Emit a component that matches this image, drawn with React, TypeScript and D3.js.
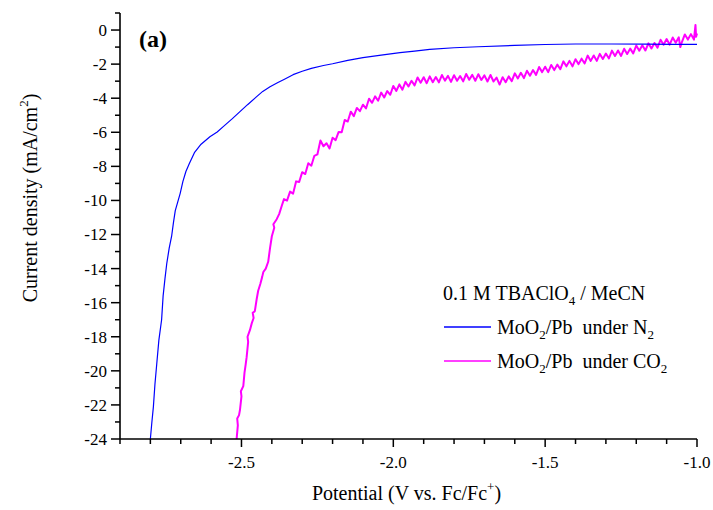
import { useRef, useEffect } from 'react';
import * as d3 from 'd3';

// LSV curves, current density (mA/cm2) vs potential (V vs Fc/Fc+)
const n2Curve: [number, number][] = [
  [-2.800, -24.0], [-2.795, -23.0], [-2.790, -22.1], [-2.785, -20.8], [-2.779, -19.6],
  [-2.772, -18.2], [-2.763, -17.0], [-2.758, -15.6], [-2.752, -14.6], [-2.746, -13.7],
  [-2.738, -12.8], [-2.730, -12.1], [-2.724, -11.3], [-2.718, -10.6], [-2.710, -10.1],
  [-2.702, -9.6], [-2.693, -8.9], [-2.683, -8.3], [-2.672, -7.85], [-2.655, -7.2],
  [-2.633, -6.7], [-2.604, -6.26], [-2.580, -5.98], [-2.560, -5.67], [-2.530, -5.2],
  [-2.505, -4.79], [-2.480, -4.38], [-2.450, -3.91], [-2.430, -3.6], [-2.406, -3.33],
  [-2.380, -3.08], [-2.360, -2.9], [-2.330, -2.62], [-2.300, -2.42], [-2.270, -2.25],
  [-2.230, -2.08], [-2.200, -1.98], [-2.150, -1.78], [-2.100, -1.62], [-2.040, -1.47],
  [-1.978, -1.33], [-1.930, -1.24], [-1.880, -1.13], [-1.800, -1.04], [-1.720, -0.98],
  [-1.600, -0.9], [-1.500, -0.85], [-1.400, -0.82], [-1.280, -0.82], [-1.170, -0.83],
  [-1.080, -0.84], [-1.000, -0.84],
];

const co2Curve: [number, number][] = [
  [-2.516, -24.0], [-2.512, -23.2], [-2.514, -22.8], [-2.508, -22.6], [-2.505, -22.3],
  [-2.500, -21.5], [-2.502, -21.2], [-2.494, -20.9], [-2.490, -20.1], [-2.486, -19.6],
  [-2.483, -19.2], [-2.478, -18.3], [-2.480, -18.0], [-2.472, -17.6], [-2.466, -17.2],
  [-2.460, -16.9], [-2.463, -16.6], [-2.456, -16.5], [-2.450, -15.8], [-2.445, -15.3],
  [-2.438, -14.9], [-2.432, -14.5], [-2.428, -14.2], [-2.420, -14.0], [-2.412, -13.6],
  [-2.406, -12.8], [-2.400, -12.1], [-2.392, -11.6], [-2.395, -11.4], [-2.384, -11.1],
  [-2.376, -10.8], [-2.367, -10.3],
  [-2.36, -9.92], [-2.35, -10.01], [-2.34, -9.48], [-2.33, -9.6], [-2.32, -8.88],
  [-2.31, -8.92], [-2.30, -8.34], [-2.29, -8.45], [-2.28, -7.82], [-2.27, -7.96],
  [-2.26, -7.38], [-2.25, -7.3], [-2.24, -6.48], [-2.23, -6.82], [-2.22, -6.64],
  [-2.21, -6.95], [-2.20, -6.32], [-2.19, -6.46], [-2.18, -5.98], [-2.17, -6.0],
  [-2.16, -5.28], [-2.15, -5.37], [-2.14, -4.79], [-2.13, -5.05], [-2.12, -4.57],
  [-2.11, -4.76], [-2.10, -4.38], [-2.09, -4.6], [-2.08, -4.03], [-2.07, -4.27],
  [-2.06, -3.89], [-2.05, -4.15], [-2.04, -3.67], [-2.03, -3.96], [-2.02, -3.58],
  [-2.01, -3.8], [-2.00, -3.28], [-1.99, -3.57], [-1.98, -3.19], [-1.97, -3.5],
  [-1.96, -3.04], [-1.95, -3.31], [-1.94, -2.98], [-1.93, -3.25], [-1.92, -2.78],
  [-1.91, -3.09], [-1.90, -2.77], [-1.89, -3.12], [-1.88, -2.72], [-1.87, -3.06],
  [-1.86, -2.76], [-1.85, -3.07], [-1.84, -2.64], [-1.83, -2.97], [-1.82, -2.69],
  [-1.81, -3.04], [-1.80, -2.65], [-1.79, -2.98], [-1.78, -2.7], [-1.77, -3.01],
  [-1.76, -2.58], [-1.75, -2.92], [-1.74, -2.63], [-1.73, -2.98], [-1.72, -2.59],
  [-1.71, -2.93], [-1.70, -2.66], [-1.69, -3.02], [-1.68, -2.64], [-1.67, -3.02],
  [-1.66, -2.79], [-1.65, -3.2], [-1.64, -2.77], [-1.63, -3.06], [-1.62, -2.72],
  [-1.61, -3.0], [-1.60, -2.54], [-1.59, -2.84], [-1.58, -2.51], [-1.57, -2.82],
  [-1.56, -2.39], [-1.55, -2.68], [-1.54, -2.35], [-1.53, -2.63], [-1.52, -2.17],
  [-1.51, -2.47], [-1.50, -2.15], [-1.49, -2.47], [-1.48, -2.05], [-1.47, -2.35],
  [-1.46, -2.03], [-1.45, -2.3], [-1.44, -1.84], [-1.43, -2.13], [-1.42, -1.81],
  [-1.41, -2.13], [-1.40, -1.71], [-1.39, -2.0], [-1.38, -1.68], [-1.37, -1.96],
  [-1.36, -1.5], [-1.35, -1.81], [-1.34, -1.49], [-1.33, -1.81], [-1.32, -1.4],
  [-1.31, -1.7], [-1.30, -1.38], [-1.29, -1.67], [-1.28, -1.21], [-1.27, -1.52],
  [-1.26, -1.2], [-1.25, -1.52], [-1.24, -1.1], [-1.23, -1.41], [-1.22, -1.09],
  [-1.21, -1.37], [-1.20, -0.91], [-1.19, -1.21], [-1.18, -0.89], [-1.17, -1.2],
  [-1.16, -0.78], [-1.15, -1.08], [-1.14, -0.76], [-1.13, -1.03], [-1.12, -0.57],
  [-1.11, -0.86], [-1.10, -0.53], [-1.09, -0.86], [-1.08, -0.44], [-1.07, -0.74],
  [-1.06, -0.43], [-1.055, -1.0], [-1.05, -0.72], [-1.04, -0.26], [-1.03, -0.56],
  [-1.02, -0.24], [-1.01, -0.56], [-1.005, 0.3], [-1.003, -0.4], [-1.000, -0.2],
];

const xMajorTicks = [-2.5, -2.0, -1.5, -1.0];
const xMinorTicks = [-2.9, -2.8, -2.7, -2.6, -2.4, -2.3, -2.2, -2.1, -1.9, -1.8, -1.7, -1.6, -1.4, -1.3, -1.2, -1.1];
const yMajorTicks = [0, -2, -4, -6, -8, -10, -12, -14, -16, -18, -20, -22, -24];
const yMinorTicks = [1, -1, -3, -5, -7, -9, -11, -13, -15, -17, -19, -21, -23];

const N2_COLOR = '#0000ff';
const CO2_COLOR = '#ff00ff';
const FONT = '"Liberation Serif", "Times New Roman", serif';

export default function App() {
  const svgRef = useRef<SVGSVGElement>(null);

  useEffect(() => {
    const svg = d3.select(svgRef.current);
    svg.selectAll('*').remove();

    const left = 120, right = 697, top = 13, bottom = 439;

    const x = d3.scaleLinear().domain([-2.9, -1.0]).range([left, right]);
    const y = d3.scaleLinear().domain([-24, 1]).range([bottom, top]);

    const g = svg.append('g').style('font-family', FONT).attr('fill', '#000');

    // curves first, axes drawn on top
    const line = d3.line<[number, number]>()
      .x(d => x(d[0]))
      .y(d => y(d[1]));

    g.append('path')
      .datum(co2Curve)
      .attr('fill', 'none')
      .attr('stroke', CO2_COLOR)
      .attr('stroke-width', 2)
      .attr('stroke-linejoin', 'round')
      .attr('d', line);

    g.append('path')
      .datum(n2Curve)
      .attr('fill', 'none')
      .attr('stroke', N2_COLOR)
      .attr('stroke-width', 1.2)
      .attr('stroke-linejoin', 'round')
      .attr('d', line);

    // axis lines
    g.append('line')
      .attr('x1', left).attr('x2', left).attr('y1', top).attr('y2', bottom)
      .attr('stroke', '#000').attr('stroke-width', 1.6);
    g.append('line')
      .attr('x1', left).attr('x2', right).attr('y1', bottom).attr('y2', bottom)
      .attr('stroke', '#000').attr('stroke-width', 1.6);

    // y ticks
    g.selectAll('.y-major')
      .data(yMajorTicks)
      .join('line')
      .attr('x1', left - 9).attr('x2', left)
      .attr('y1', d => y(d)).attr('y2', d => y(d))
      .attr('stroke', '#000').attr('stroke-width', 1.5);
    g.selectAll('.y-minor')
      .data(yMinorTicks)
      .join('line')
      .attr('x1', left - 5).attr('x2', left)
      .attr('y1', d => y(d)).attr('y2', d => y(d))
      .attr('stroke', '#000').attr('stroke-width', 1.5);
    g.selectAll('.y-label')
      .data(yMajorTicks)
      .join('text')
      .attr('x', left - 13)
      .attr('y', d => y(d))
      .attr('dy', '0.35em')
      .attr('text-anchor', 'end')
      .style('font-size', '17px')
      .text(d => String(d));

    // x ticks
    g.selectAll('.x-major')
      .data(xMajorTicks)
      .join('line')
      .attr('x1', d => x(d)).attr('x2', d => x(d))
      .attr('y1', bottom).attr('y2', bottom + 8)
      .attr('stroke', '#000').attr('stroke-width', 1.5);
    g.selectAll('.x-minor')
      .data(xMinorTicks)
      .join('line')
      .attr('x1', d => x(d)).attr('x2', d => x(d))
      .attr('y1', bottom).attr('y2', bottom + 5)
      .attr('stroke', '#000').attr('stroke-width', 1.5);
    g.selectAll('.x-label')
      .data(xMajorTicks)
      .join('text')
      .attr('x', d => x(d))
      .attr('y', bottom + 29)
      .attr('text-anchor', 'middle')
      .style('font-size', '17px')
      .text(d => d.toFixed(1));

    // axis titles
    const xt = g.append('text')
      .attr('x', (left + right) / 2 - 2)
      .attr('y', 500)
      .attr('text-anchor', 'middle')
      .style('font-size', '20px');
    xt.append('tspan').text('Potential (V vs. Fc/Fc');
    xt.append('tspan').attr('dy', -9).style('font-size', '13px').text('+');
    xt.append('tspan').attr('dy', 9).text(')');

    const yt = g.append('text')
      .attr('transform', 'translate(37,198) rotate(-90)')
      .attr('text-anchor', 'middle')
      .style('font-size', '20px');
    yt.append('tspan').text('Current density (mA/cm');
    yt.append('tspan').attr('dy', -9).style('font-size', '13px').text('2');
    yt.append('tspan').attr('dy', 9).text(')');

    // panel label
    g.append('text')
      .attr('x', 139).attr('y', 47)
      .style('font-size', '24px')
      .style('font-weight', 'bold')
      .text('(a)');

    // legend
    const lg = g.append('g');
    const head = lg.append('text').attr('x', 443).attr('y', 300).style('font-size', '20px');
    head.append('tspan').text('0.1 M TBAClO');
    head.append('tspan').attr('dy', 5).style('font-size', '13px').text('4');
    head.append('tspan').attr('dy', -5).text(' / MeCN');

    const entries = [
      { color: N2_COLOR, gas: 'N', y: 327 },
      { color: CO2_COLOR, gas: 'CO', y: 361 },
    ];
    entries.forEach(function (e) {
      lg.append('line')
        .attr('x1', 444).attr('x2', 491)
        .attr('y1', e.y).attr('y2', e.y)
        .attr('stroke', e.color).attr('stroke-width', 1.3);
      const t = lg.append('text').attr('x', 497).attr('y', e.y + 7).style('font-size', '20px');
      t.append('tspan').text('MoO');
      t.append('tspan').attr('dy', 5).style('font-size', '13px').text('2');
      t.append('tspan').attr('dy', -5).style('white-space', 'pre').text('/Pb  under ' + e.gas);
      t.append('tspan').attr('dy', 5).style('font-size', '13px').text('2');
    });
  }, []);

  return (
    <svg
      ref={svgRef}
      width={713}
      height={510}
      style={{ position: 'absolute', left: 0, top: 0, background: '#fff' }}
    />
  );
}
